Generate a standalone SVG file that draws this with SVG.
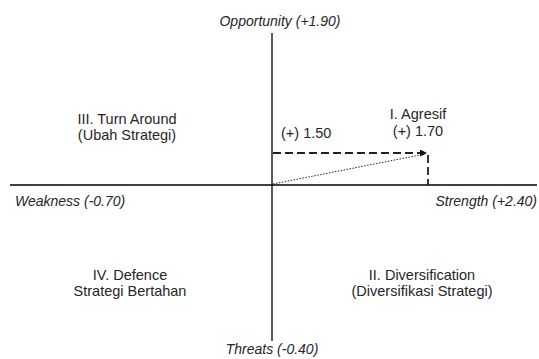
<svg xmlns="http://www.w3.org/2000/svg" width="539" height="359" viewBox="0 0 539 359">
<style>
  text { font-family: "Liberation Sans", Arial, sans-serif; font-size: 14.5px; fill: #262626; }
  .ax { font-style: italic; font-size: 14px; }
  .c { text-anchor: middle; }
  .axis { stroke: #000; stroke-width: 1.3; fill: none; }
  .dash { stroke: #222; stroke-width: 1.8; stroke-dasharray: 8 4; fill: none; }
  .dot { stroke: #222; stroke-width: 1; stroke-dasharray: 1.5 1.5; fill: none; }
</style>
<defs>
  <marker id="ah" viewBox="0 0 10 10" refX="10" refY="5" markerWidth="9" markerHeight="7" markerUnits="userSpaceOnUse" orient="auto">
    <path d="M0,0 L10,5 L0,10 z" fill="#111"/>
  </marker>
</defs>
<rect width="539" height="359" fill="#fff"/>
<g id="connectors">
  <line class="axis" x1="272" y1="33" x2="272" y2="341"/>
  <line class="axis" x1="10" y1="185" x2="537" y2="185"/>
  <line class="dash" x1="273" y1="153" x2="427" y2="153" marker-end="url(#ah)"/>
  <line class="dash" x1="428" y1="155" x2="428" y2="185"/>
  <line class="dot" x1="273" y1="184" x2="425" y2="154"/>
</g>
<g id="opportunity"><text class="ax c" x="280" y="26">Opportunity (+1.90)</text></g>
<g id="weakness"><text class="ax" x="15" y="206">Weakness (-0.70)</text></g>
<g id="strength"><text class="ax" x="537" y="206" text-anchor="end">Strength (+2.40)</text></g>
<g id="threats"><text class="ax c" x="272" y="354">Threats (-0.40)</text></g>
<g id="q3"><text class="c" x="127" y="124">III. Turn Around</text><text class="c" x="127" y="140">(Ubah Strategi)</text></g>
<g id="q1"><text class="c" x="418" y="119">I. Agresif</text><text class="c" x="418" y="136">(+) 1.70</text></g>
<g id="v150"><text x="281" y="138">(+) 1.50</text></g>
<g id="q4"><text class="c" x="130" y="280">IV. Defence</text><text class="c" x="130" y="296">Strategi Bertahan</text></g>
<g id="q2"><text class="c" x="422" y="280">II. Diversification</text><text class="c" x="422" y="296">(Diversifikasi Strategi)</text></g>
</svg>
